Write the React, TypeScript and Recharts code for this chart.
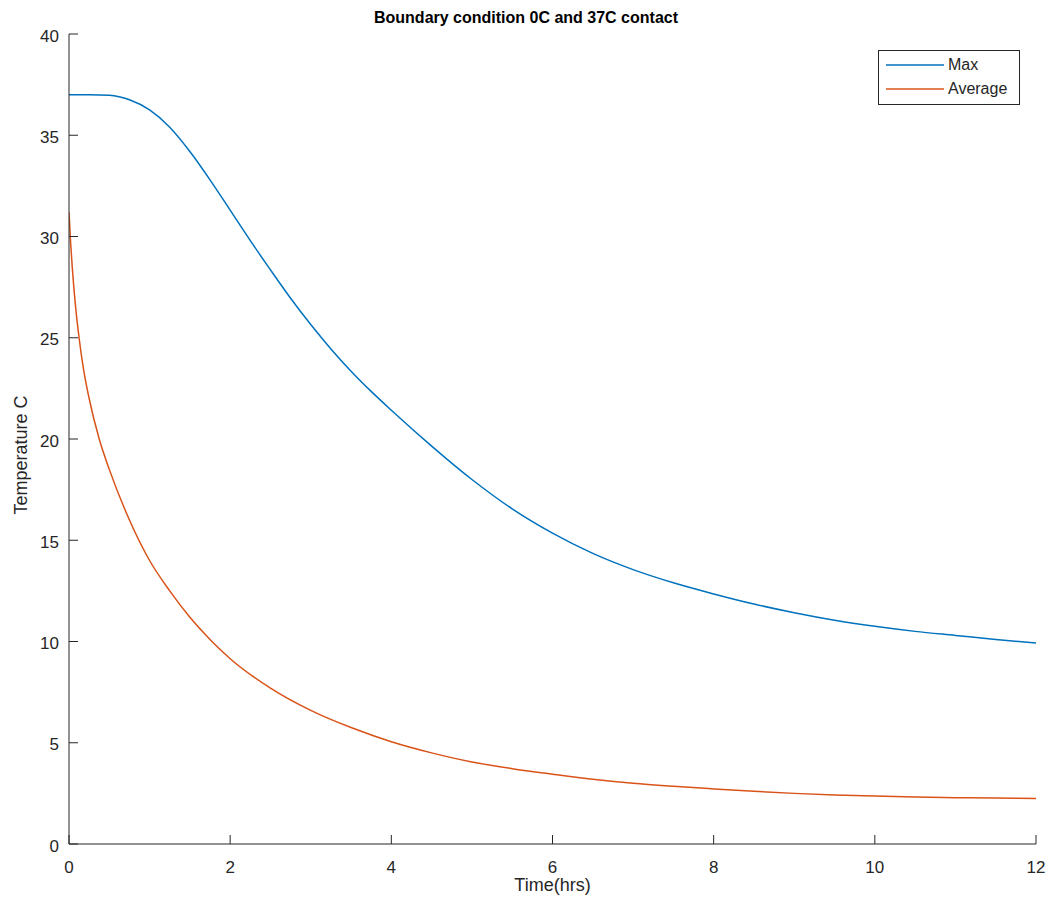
import { LineChart, Line, XAxis, YAxis, Legend } from "recharts"

// temperature curves (hours, degrees C)
const maxTime = [0, 0.25, 0.5, 0.75, 1, 1.25, 1.5, 1.75, 2, 2.25, 2.5, 2.75, 3, 3.25, 3.5, 3.75, 4, 4.5, 5, 5.5, 6, 6.5, 7, 7.5, 8, 8.5, 9, 9.5, 10, 10.5, 11, 11.5, 12]
const maxTemp = [37.0, 37.0, 36.97, 36.75, 36.25, 35.4, 34.2, 32.8, 31.3, 29.8, 28.35, 26.95, 25.65, 24.45, 23.35, 22.35, 21.42, 19.65, 18.0, 16.55, 15.35, 14.35, 13.55, 12.9, 12.35, 11.85, 11.42, 11.05, 10.75, 10.5, 10.3, 10.1, 9.93]

const avgTime = [0, 0.02, 0.04, 0.08, 0.125, 0.18, 0.25, 0.375, 0.5, 0.75, 1, 1.25, 1.5, 1.75, 2, 2.5, 3, 3.5, 4, 4.5, 5, 5.5, 6, 6.5, 7, 7.5, 8, 8.5, 9, 9.5, 10, 10.5, 11, 11.5, 12]
const avgTemp = [31.2, 29.7, 28.5, 26.6, 25.0, 23.45, 22.0, 20.0, 18.5, 16.0, 14.0, 12.5, 11.2, 10.1, 9.15, 7.7, 6.6, 5.75, 5.05, 4.5, 4.05, 3.72, 3.45, 3.2, 3.0, 2.85, 2.72, 2.6, 2.5, 2.42, 2.37, 2.32, 2.29, 2.27, 2.25]

const seriesNames = ["Max", "Average"]
const seriesColors = ["#0072BD", "#D95319"]
const xTicks = [0, 2, 4, 6, 8, 10, 12]
const yTicks = [0, 5, 10, 15, 20, 25, 30, 35, 40]

const maxData = maxTime.map((t, i) => ({ t, v: maxTemp[i] }))
const avgData = avgTime.map((t, i) => ({ t, v: avgTemp[i] }))

const font = "'Liberation Sans', Arial, sans-serif"
const ink = "#262626"

const XTick = (props: any) => {
  const { x, y, payload } = props
  return (
    <g>
      <line x1={x} x2={x} y1={y} y2={y - 9} stroke={ink} strokeWidth={1} />
      <text x={x} y={y + 23} textAnchor="middle" dominantBaseline="central" fontSize={17} fill={ink} fontFamily={font}>
        {payload.value}
      </text>
    </g>
  )
}

const YTick = (props: any) => {
  const { x, y, payload } = props
  return (
    <g>
      <line x1={x} x2={x + 9} y1={y} y2={y} stroke={ink} strokeWidth={1} />
      <text x={x - 10} y={y + 2} textAnchor="end" dominantBaseline="central" fontSize={17} fill={ink} fontFamily={font}>
        {payload.value}
      </text>
    </g>
  )
}

const LegendBox = () => (
  <div style={{ border: "1px solid #262626", background: "#fff", padding: "2px 0 3px 0", fontFamily: font, fontSize: 16, color: ink, boxSizing: "border-box" }}>
    {seriesNames.map((name, i) => (
      <div key={name} style={{ display: "flex", alignItems: "center", height: 24 }}>
        <svg width={58} height={4} style={{ marginLeft: 7, marginRight: 4 }}>
          <line x1={0} x2={58} y1={2} y2={2} stroke={seriesColors[i]} strokeWidth={1.5} />
        </svg>
        <span>{name}</span>
      </div>
    ))}
  </div>
)

export default function App() {
  return (
    <div style={{ position: "absolute", left: 0, top: 0, width: 1052, height: 911, background: "#fff" }}>
      <div style={{ position: "absolute", left: 526, top: 9, transform: "translateX(-50%)", whiteSpace: "nowrap", fontFamily: font, fontWeight: "bold", fontSize: 16, color: "#000" }}>
        Boundary condition 0C and 37C contact
      </div>
      <LineChart width={1052} height={911} margin={{ top: 34, right: 16, bottom: 0, left: 0 }}>
        <XAxis
          dataKey="t"
          type="number"
          domain={[0, 12]}
          ticks={xTicks}
          allowDataOverflow
          interval={0}
          tickSize={0}
          tickMargin={0}
          height={67}
          stroke={ink}
          tick={<XTick />}
          label={{
            content: (p: any) => {
              const vb = p.viewBox
              return (
                <text x={vb.x + vb.width / 2} y={vb.y + 41} textAnchor="middle" dominantBaseline="central" fontSize={18} fill={ink} fontFamily={font}>
                  Time(hrs)
                </text>
              )
            },
          }}
        />
        <YAxis
          type="number"
          domain={[0, 40]}
          ticks={yTicks}
          allowDataOverflow
          interval={0}
          tickSize={0}
          tickMargin={0}
          width={69}
          stroke={ink}
          tick={<YTick />}
          label={{
            content: (p: any) => {
              const vb = p.viewBox
              const cx = vb.x + 21
              const cy = vb.y + vb.height / 2 + 16
              return (
                <text x={cx} y={cy} transform={`rotate(-90 ${cx} ${cy})`} textAnchor="middle" dominantBaseline="central" fontSize={18} fill={ink} fontFamily={font}>
                  Temperature C
                </text>
              )
            },
          }}
        />
        <Legend
          layout="horizontal"
          verticalAlign="middle"
          align="center"
          content={<LegendBox />}
          wrapperStyle={{ top: 50, left: 878, width: 142 }}
        />
        <Line data={maxData} dataKey="v" name={seriesNames[0]} type="monotone" stroke={seriesColors[0]} strokeWidth={1.5} dot={false} isAnimationActive={false} />
        <Line data={avgData} dataKey="v" name={seriesNames[1]} type="monotone" stroke={seriesColors[1]} strokeWidth={1.5} dot={false} isAnimationActive={false} />
      </LineChart>
    </div>
  )
}
